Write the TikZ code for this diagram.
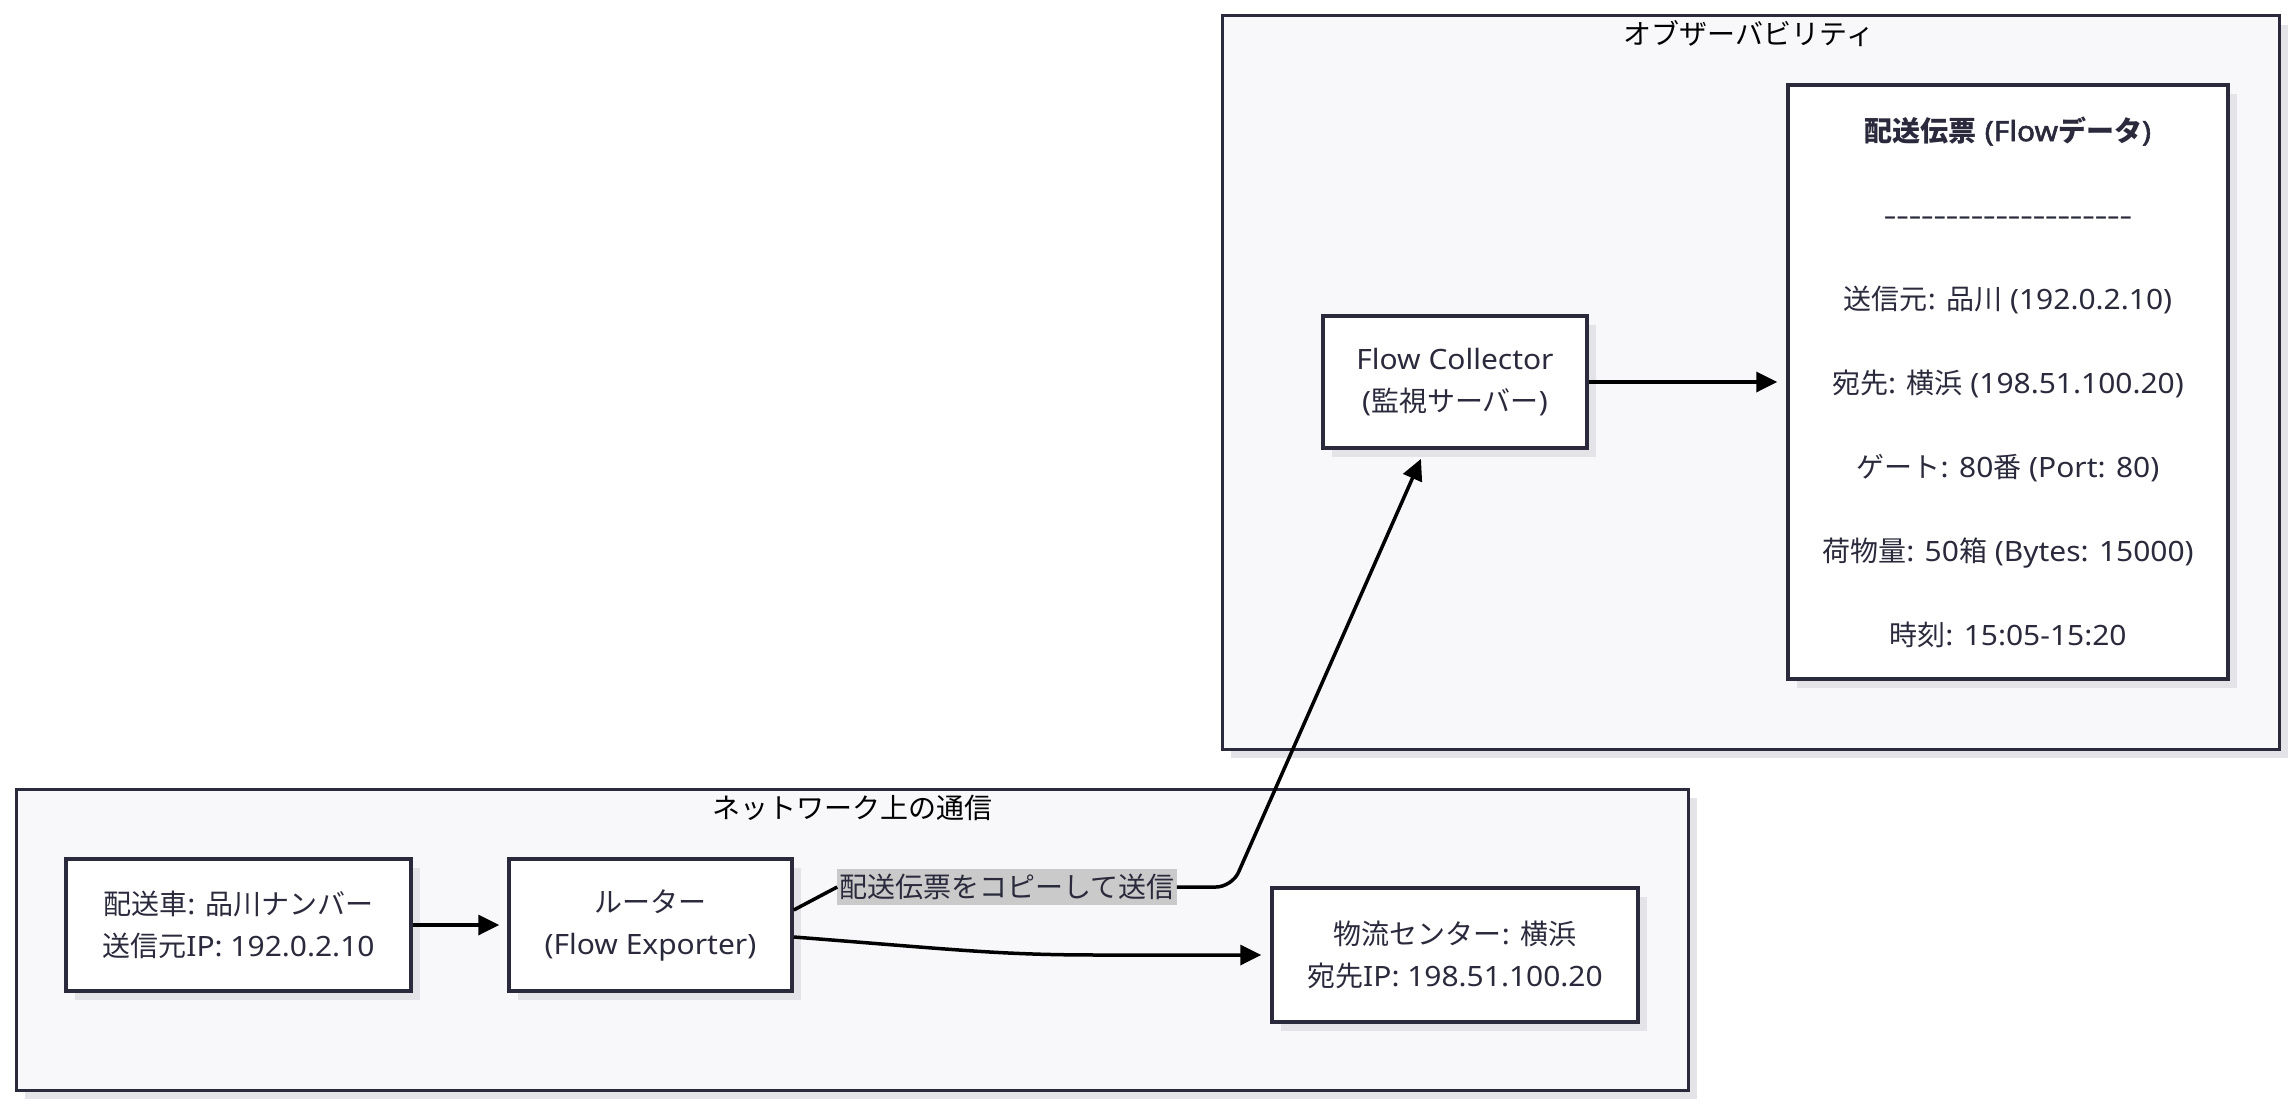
\documentclass[tikz,border=0pt]{standalone}
\usepackage{fontspec}
\setmainfont{Noto Sans}[AutoFakeBold=2,FakeStretch=1.07]
\newfontfamily\jpfont{Noto Sans CJK JP}
\usetikzlibrary{arrows.meta,shadows}
\newXeTeXintercharclass\jpclass
\newcount\jpc
\newcommand\jprange[2]{\jpc=#1\relax
  \loop\XeTeXcharclass\jpc=\jpclass\ifnum\jpc<#2\advance\jpc by 1\repeat}
\jprange{"3000}{"30FF}
\jprange{"4E00}{"9FFF}
\jprange{"FF00}{"FFEF}
\XeTeXinterchartoks 0 \jpclass = {\jpfont}
\XeTeXinterchartoks 4095 \jpclass = {\jpfont}
\XeTeXinterchartoks \jpclass 0 = {\rmfamily}
\XeTeXinterchartoks \jpclass 4095 = {\rmfamily}
\newcommand\dsh{\makebox[12.4pt]{\scalebox{1.35}[1]{-}}}
\newcommand\dshfive{\dsh\dsh\dsh\dsh\dsh}
\definecolor{ink}{HTML}{2A2A3C}
\definecolor{clusterfill}{HTML}{F8F8FA}
\definecolor{shade}{HTML}{E4E4E8}
\definecolor{lblbg}{HTML}{CACACA}
\tikzset{
  shd/.style={drop shadow={shadow xshift=9pt,shadow yshift=-9pt,fill=shade,opacity=1}},
  cluster/.style={draw=ink,line width=3pt,fill=clusterfill,shd},
  box/.style={draw=ink,line width=3.5pt,fill=white,shd,align=center,text=ink,
    font=\fontsize{28}{42}\selectfont,inner sep=0pt},
  ctitle/.style={text=black,font=\fontsize{28}{34}\selectfont,inner sep=0pt},
  edge/.style={draw=black,line width=3.5pt,-{Triangle[length=21pt,width=20pt]}},
  lbl/.style={fill=lblbg,text=ink,font=\fontsize{28}{34}\selectfont,inner xsep=2pt,inner ysep=5pt},
}
\begin{document}
\XeTeXinterchartokenstate=1
\begin{tikzpicture}[x=1pt,y=-1pt]
\path[use as bounding box,fill=white] (0,0) rectangle (2295,1108);
% clusters
\path[cluster] (1222,16) rectangle (2279,749);
\node[ctitle] (obst) at (1749,34) {オブザーバビリティ};
\path[cluster] (16,789) rectangle (1688,1090);
\node[ctitle] (nett) at (852,808) {ネットワーク上の通信};
% nodes
\node[box,minimum width=345pt,minimum height=132pt] (car) at (238.5,925) {配送車: 品川ナンバー\\送信元IP: 192.0.2.10};
\node[box,minimum width=283pt,minimum height=132pt] (router) at (650.5,925) {ルーター\\(Flow Exporter)};
\node[box,minimum width=366pt,minimum height=134pt] (center) at (1455,955) {物流センター: 横浜\\宛先IP: 198.51.100.20};
\node[box,minimum width=264pt,minimum height=132pt] (collector) at (1455,382) {Flow Collector\\(監視サーバー)};
\node[box,minimum width=440pt,minimum height=594pt,font=\fontsize{28}{84}\selectfont] (flow) at (2008,382)
  {\textbf{配送伝票 (Flowデータ)}\\\dshfive\dshfive\dshfive\dshfive\\送信元: 品川 (192.0.2.10)\\宛先: 横浜 (198.51.100.20)\\ゲート: 80番 (Port: 80)\\荷物量: 50箱 (Bytes: 15000)\\時刻: 15:05-15:20};
% label
\node[lbl] (lbl) at (1007,887) {配送伝票をコピーして送信};
\coordinate (bend) at (1232,887);
% edges
\draw[edge,shorten >=8pt] (car) -- (router);
\draw[draw=black,line width=3.5pt] ([yshift=15pt]router.east) -- (lbl.west);
\draw[edge,rounded corners=16pt,shorten >=10pt] (lbl.east) -- (bend) -- ([xshift=-30pt]collector.south);
\draw[edge,shorten >=9pt] ([yshift=-12pt]router.east) .. controls (960,950) and (1000,955) .. (1100,955) -- (center.west);
\draw[edge,shorten >=9pt] (collector) -- (flow);
\end{tikzpicture}
\end{document}
